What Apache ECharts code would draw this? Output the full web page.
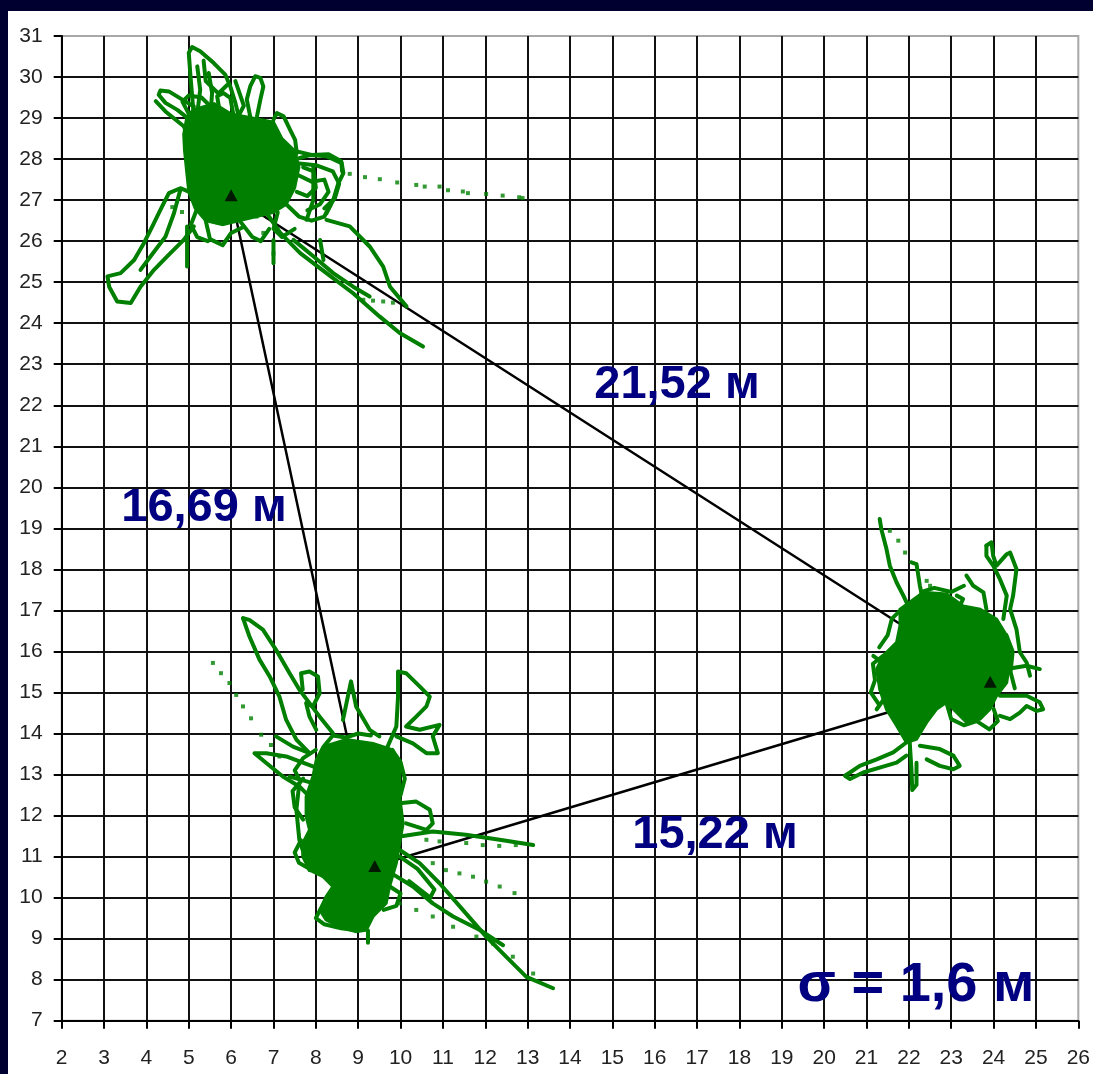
<!DOCTYPE html>
<html>
<head>
<meta charset="utf-8">
<script src="https://cdn.jsdelivr.net/npm/echarts@6/dist/echarts.min.js"></script>
<style>
html,body{margin:0;padding:0;background:#000030;width:1093px;height:1074px;overflow:hidden;}
#chart{position:absolute;left:8px;top:11px;width:1085px;height:1063px;background:#fff;}
</style>
</head>
<body>
<div id="chart"></div>
<script>
// ---- axes ----
const xRange = [2, 26];
const yRange = [7, 31];

// ---- station positions (triangle vertices) ----
const stations = [[6.0, 27.12], [9.39, 10.77], [23.92, 15.26]];
const triangleEdges = [[6.0, 27.12], [23.92, 15.26], [9.39, 10.77], [6.0, 27.12]];

// ---- annotation texts ----
const distanceLabels = ['21,52 м', '16,69 м', '15,22 м'];
const sigmaLabel = 'σ = 1,6 м';

// ---- NW cluster ----
const nwCore = [[5.1,29.2],[5.6,29.35],[6.0,29.1],[6.5,29.0],[7.0,28.9],[7.2,28.5],[7.5,28.2],[7.6,27.8],[7.5,27.3],[7.3,26.9],[7.0,26.7],[6.6,26.6],[6.2,26.5],[5.8,26.4],[5.4,26.5],[5.15,26.8],[5.0,27.2],[4.95,27.7],[4.9,28.2],[4.88,28.6],[4.95,29.0]];
const nwTracks = [
  [[5.12,29.04],[5.04,30.02],[5.0,30.59],[5.08,30.73],[5.27,30.63],[5.59,30.34],[5.86,30.06],[5.98,29.77],[6.1,29.37],[6.18,29.04]],
  [[5.2,30.26],[5.27,29.69],[5.2,29.12]],
  [[5.47,30.1],[5.55,29.61],[5.51,29.04]],
  [[5.35,30.4],[5.4,29.9],[5.7,29.6],[5.9,29.8]],
  [[6.45,29.04],[6.37,29.45],[6.45,29.77],[6.57,30.02],[6.69,29.98],[6.76,29.77],[6.69,29.45],[6.61,29.04]],
  [[5.12,28.88],[4.73,29.2],[4.45,29.37],[4.29,29.57],[4.33,29.67],[4.53,29.65],[4.8,29.48],[5.12,29.28]],
  [[4.22,29.41],[4.45,29.16],[4.88,28.8],[5.04,28.47]],
  [[5.0,29.1],[4.85,29.4],[5.0,29.55],[5.3,29.5],[5.5,29.3]],
  [[6.2,29.1],[6.3,29.3],[6.2,29.6],[6.1,29.9]],
  [[5.75,29.04],[5.67,29.53],[5.82,29.61],[5.98,29.49],[6.06,29.04]],
  [[7.0,28.96],[7.08,29.12],[7.24,29.04],[7.39,28.72],[7.51,28.47],[7.55,28.15],[7.47,27.98],[7.31,28.15]],
  [[7.5,28.2],[7.9,28.1],[8.3,28.12],[8.6,27.95],[8.62,27.7]],
  [[7.55,27.9],[8.0,27.85],[8.4,27.7],[8.55,27.4],[8.45,27.05],[8.2,26.8]],
  [[7.6,27.6],[7.9,27.45],[8.2,27.5],[8.3,27.2],[8.1,26.9],[7.8,26.75]],
  [[7.55,27.2],[7.8,27.1],[8.0,27.3],[7.95,27.7],[7.7,27.8]],
  [[7.3,26.9],[7.6,26.6],[7.9,26.5],[8.2,26.6],[8.35,26.9]],
  [[7.1,26.7],[7.0,26.3],[7.2,26.1],[7.5,26.3]],
  [[7.47,27.98],[7.86,28.1],[8.25,28.07],[8.61,27.9],[8.65,27.66],[8.53,27.41],[8.41,27.0],[8.25,26.68]],
  [[7.94,27.82],[7.94,27.0],[7.78,26.52]],
  [[5.4,26.5],[5.5,26.05],[5.8,25.9],[6.0,26.2],[6.3,26.35]],
  [[6.2,26.5],[6.5,26.1],[6.7,26.0],[6.9,26.3]],
  [[5.2,26.8],[5.05,26.4],[5.2,26.1],[5.45,26.0]],
  [[5.27,27.09],[4.8,27.29],[4.53,27.17],[4.33,26.76],[4.14,26.36],[3.94,25.95],[3.71,25.54],[3.39,25.22],[3.08,25.14],[3.12,24.89],[3.31,24.53],[3.63,24.49],[3.86,24.89],[4.18,25.3],[4.49,25.63],[4.88,26.03],[5.12,26.36]],
  [[4.8,27.25],[4.65,26.68],[4.45,26.11],[4.1,25.63],[3.86,25.3]],
  [[4.96,26.36],[4.96,25.38]],
  [[6.84,26.68],[7.16,26.2],[7.63,25.71],[8.25,25.22],[8.88,24.73],[9.51,24.16],[9.98,23.76],[10.53,23.43]],
  [[8.25,26.52],[8.8,26.36],[9.27,25.87],[9.59,25.38],[9.75,24.89],[10.14,24.41]],
  [[7.47,26.03],[7.94,25.63],[8.41,25.22],[8.88,24.89],[9.27,24.65]],
  [[7.0,26.03],[7.0,25.46]],
  [[8.1,26.03],[8.18,25.54]]
];
const nwDots = [[8.8,27.64],[9.16,27.56],[9.51,27.51],[9.92,27.43],[10.37,27.37],[10.57,27.33],[10.92,27.33],[11.12,27.24],[11.47,27.21],[11.59,27.17],[12.02,27.15],[12.41,27.11],[12.8,27.07],[12.88,27.05],
  [9.12,24.57],[9.35,24.55],[9.59,24.53],[9.82,24.5],[6.6,26.6],[6.76,26.2],[7.0,25.7],[4.61,26.83],[4.84,26.71]];

// ---- S cluster ----
const sCore = [[8.17,13.68],[8.72,13.85],[9.35,13.76],[9.82,13.6],[9.98,13.2],[9.98,12.46],[10.06,11.81],[9.98,11.33],[9.9,10.84],[9.74,10.27],[9.66,9.86],[9.35,9.54],[9.19,9.21],[8.95,9.17],[8.56,9.29],[8.24,9.46],[8.09,9.7],[8.24,10.02],[8.4,10.27],[8.17,10.51],[7.85,10.67],[7.69,11.0],[7.69,11.33],[7.85,11.65],[7.77,11.98],[7.77,12.46],[7.93,12.95],[8.01,13.36]];
const sTracks = [
  [[6.28,16.81],[6.43,16.77],[6.75,16.53],[7.06,16.04],[7.38,15.47],[7.61,15.07],[7.85,14.74],[8.09,14.41],[8.4,14.01]],
  [[6.28,16.81],[6.43,16.37],[6.67,15.8],[6.91,15.39],[7.14,14.9],[7.3,14.33],[7.54,13.85],[7.85,13.52]],
  [[7.69,15.07],[7.65,15.47],[7.85,15.51],[8.05,15.39],[8.09,14.98],[7.93,14.66],[7.77,14.74],[7.85,14.41],[8.01,14.09]],
  [[8.64,14.33],[8.83,15.27],[8.95,14.66],[9.27,14.09],[9.5,13.93]],
  [[9.66,13.6],[9.9,14.17],[9.94,14.9],[9.94,15.51],[10.13,15.47],[10.45,15.15],[10.69,14.9],[10.61,14.66],[10.37,14.41],[10.13,14.17],[10.45,14.09],[10.92,14.21],[10.76,13.93],[10.88,13.52],[10.61,13.52],[10.29,13.76],[9.9,13.93]],
  [[7.93,13.2],[7.3,13.44],[6.83,13.52],[6.55,13.52],[6.83,13.28],[7.22,12.95],[7.61,12.71],[7.85,12.46]],
  [[7.06,13.93],[7.46,13.68],[7.85,13.52]],
  [[7.7,12.9],[7.45,12.6],[7.5,12.2],[7.7,11.9]],
  [[8.0,13.6],[7.7,13.4],[7.5,13.1],[7.6,12.9]],
  [[8.2,13.7],[8.4,13.95],[8.7,13.9],[9.0,14.0],[9.3,13.95]],
  [[9.8,13.6],[10.0,13.3],[10.1,12.9],[10.0,12.5]],
  [[7.65,11.4],[7.5,11.1],[7.6,10.85],[7.85,10.7],[8.1,10.6]],
  [[8.1,9.7],[8.0,9.5],[8.2,9.35],[8.6,9.25],[9.0,9.2]],
  [[9.7,10.3],[10.0,10.1],[9.9,9.8],[9.6,9.7]],
  [[9.98,12.3],[10.37,12.34],[10.69,12.14],[10.76,11.81],[10.61,11.65],[10.13,11.81]],
  [[9.98,11.49],[10.76,11.61],[11.54,11.53],[12.34,11.41],[13.13,11.28]],
  [[9.98,11.16],[10.45,10.84],[10.92,10.35],[11.47,9.7],[12.02,9.05],[12.49,8.56],[12.97,8.07],[13.6,7.79]],
  [[9.66,10.67],[10.29,10.27],[10.76,9.86],[11.24,9.54],[11.87,9.21],[12.42,8.84]],
  [[7.61,12.79],[7.54,12.14],[7.61,11.41],[7.69,11.16],[7.85,10.67]],
  [[7.38,12.95],[7.93,12.79]],
  [[9.23,9.2],[9.23,8.9]],
  [[9.98,11.0],[10.4,10.7],[10.8,10.2],[10.7,10.0],[10.2,10.4]]
];
const sDots = [[10.61,11.41],[10.92,11.37],[11.55,11.33],[11.94,11.28],[12.33,11.26],[12.72,11.28],
  [10.76,10.84],[11.07,10.67],[11.39,10.59],[11.71,10.51],[12.02,10.39],[12.34,10.27],[12.69,10.11],
  [9.98,9.86],[10.37,9.7],[10.76,9.54],[11.24,9.29],[11.79,9.05],[12.18,8.88],[12.65,8.56],[13.13,8.15],
  [5.57,15.72],[5.76,15.47],[5.96,15.23],[6.12,14.94],[6.28,14.66],[6.47,14.37],[6.71,13.97],[6.94,13.72],[7.14,13.44]];

// ---- E cluster ----
const eCore = [[21.79,17.03],[22.34,17.44],[22.89,17.4],[23.28,17.11],[23.68,17.03],[24.07,16.79],[24.31,16.38],[24.39,15.81],[24.31,15.24],[24.07,14.92],[23.91,14.59],[23.68,14.35],[23.36,14.27],[23.05,14.59],[22.89,14.76],[22.65,14.59],[22.42,14.27],[22.18,13.86],[21.94,13.78],[21.71,14.19],[21.47,14.59],[21.31,15.08],[21.24,15.57],[21.39,15.89],[21.71,16.22],[21.79,16.63]];
const eTracks = [
  [[21.31,19.23],[21.35,18.98],[21.47,18.5],[21.55,18.09],[21.71,17.68],[21.87,17.36],[22.02,17.03]],
  [[22.06,18.17],[22.18,18.13],[22.26,17.6],[22.34,17.19]],
  [[23.83,18.58],[23.95,18.66],[23.99,18.33],[24.07,18.09],[24.31,18.37],[24.39,18.41],[24.54,18.01],[24.46,17.36],[24.39,17.03],[24.54,16.54],[24.62,15.98],[24.78,15.73],[24.86,15.41]],
  [[23.83,18.58],[23.83,18.33],[23.99,18.09],[24.15,17.76],[24.31,17.36],[24.23,16.79]],
  [[23.36,17.85],[23.52,17.6],[23.76,17.44],[23.83,17.03]],
  [[21.8,17.0],[21.6,16.8],[21.5,16.4],[21.3,16.1]],
  [[21.4,15.9],[21.15,15.7],[21.2,15.3],[21.1,15.0],[21.3,14.7]],
  [[22.9,14.7],[23.0,14.35],[23.3,14.2],[23.6,14.3]],
  [[24.3,16.4],[24.45,16.0],[24.4,15.5],[24.5,15.1]],
  [[22.3,17.45],[22.6,17.55],[23.0,17.45],[23.3,17.6]],
  [[23.6,14.3],[23.9,14.1],[24.1,14.3],[24.0,14.6]],
  [[24.31,15.57],[24.78,15.65],[25.09,15.57]],
  [[24.15,14.92],[24.78,14.92],[25.09,14.76],[25.17,14.59],[25.02,14.55],[24.78,14.67],[24.62,14.51],[24.39,14.35],[24.15,14.43]],
  [[21.94,13.78],[21.63,13.54],[21.24,13.37],[20.84,13.21],[20.61,13.05],[20.49,12.97],[20.61,12.89],[20.92,13.05],[21.31,13.17],[21.71,13.29],[21.94,13.46]],
  [[22.02,13.78],[22.06,13.13],[22.08,12.62],[22.18,12.75],[22.18,13.29]],
  [[22.26,13.7],[22.73,13.62],[23.05,13.46],[23.2,13.21],[23.05,13.13],[22.73,13.21],[22.42,13.37]],
  [[21.16,15.89],[21.47,15.65],[21.31,15.24],[21.47,14.92],[21.24,14.59]],
  [[23.13,17.36],[23.28,17.28],[23.2,17.1]]
];
const eDots = [[21.55,18.94],[21.75,18.7],[21.91,18.41],[22.42,17.72],[22.5,17.6]];

const GREEN = '#007f00';
const NAVY = '#000080';
const cores = [nwCore, sCore, eCore];
const allTracks = nwTracks.concat(sTracks, eTracks);
const allDots = nwDots.concat(sDots, eDots);

const chart = echarts.init(document.getElementById('chart'), null, {renderer: 'canvas'});
const labelFont = '"Liberation Sans", Arial, sans-serif';
const bigFont = 'bold 47px "Liberation Sans", Arial, sans-serif';

const option = {
  animation: false,
  backgroundColor: '#fff',
  grid: {left: 53.7, top: 25, width: 1017.3, height: 984.7, show: true, borderColor: '#a8a8a8', borderWidth: 2},
  xAxis: {
    type: 'value', min: xRange[0], max: xRange[1], interval: 1,
    axisLine: {show: true, onZero: false, lineStyle: {color: '#000', width: 2}},
    axisTick: {show: true, inside: false, length: 8, lineStyle: {color: '#000', width: 2}},
    axisLabel: {color: '#222', fontSize: 21, fontFamily: labelFont, margin: 27},
    splitLine: {show: true, showMaxLine: false, lineStyle: {color: '#111', width: 2}}
  },
  yAxis: {
    type: 'value', min: yRange[0], max: yRange[1], interval: 1,
    axisLine: {show: true, onZero: false, lineStyle: {color: '#000', width: 2}},
    axisTick: {show: true, inside: false, length: 8, lineStyle: {color: '#000', width: 2}},
    axisLabel: {color: '#222', fontSize: 21, fontFamily: labelFont, margin: 19},
    splitLine: {show: true, showMaxLine: false, lineStyle: {color: '#111', width: 2}}
  },
  series: [
    {
      type: 'line', data: triangleEdges, symbol: 'none', z: 2,
      lineStyle: {color: '#000', width: 2.5}, silent: true
    },
    {
      type: 'custom', z: 3, silent: true,
      data: cores.map((c, i) => [c[0][0], c[0][1], i]),
      renderItem: function (params, api) {
        const poly = cores[api.value(2)];
        return {
          type: 'polygon',
          shape: {points: poly.map(p => api.coord(p))},
          style: {fill: GREEN, stroke: GREEN, lineWidth: 3}
        };
      }
    },
    {
      type: 'lines', coordinateSystem: 'cartesian2d', polyline: true, z: 4, silent: true,
      data: allTracks.map(c => ({coords: c})),
      lineStyle: {color: GREEN, width: 4, opacity: 1, cap: 'round', join: 'round'}
    },
    {
      type: 'scatter', data: allDots, symbol: 'rect', symbolSize: 4, z: 4, silent: true,
      itemStyle: {color: GREEN}
    },
    {
      type: 'scatter', data: stations, symbol: 'triangle', symbolSize: [13, 12], z: 6, silent: true,
      itemStyle: {color: '#000'}
    }
  ],
  graphic: [
    {type: 'text', z: 100, style: {text: distanceLabels[0], x: 669, y: 374, align: 'center', verticalAlign: 'middle', font: bigFont, fill: NAVY}},
    {type: 'text', z: 100, style: {text: distanceLabels[1], x: 196, y: 497, align: 'center', verticalAlign: 'middle', font: bigFont, fill: NAVY}},
    {type: 'text', z: 100, style: {text: distanceLabels[2], x: 707, y: 824, align: 'center', verticalAlign: 'middle', font: bigFont, fill: NAVY}},
    {type: 'text', z: 100, style: {text: sigmaLabel, x: 908, y: 975, align: 'center', verticalAlign: 'middle', font: 'bold 56px "Liberation Sans", Arial, sans-serif', fill: NAVY}}
  ]
};
chart.setOption(option);
</script>
</body>
</html>
